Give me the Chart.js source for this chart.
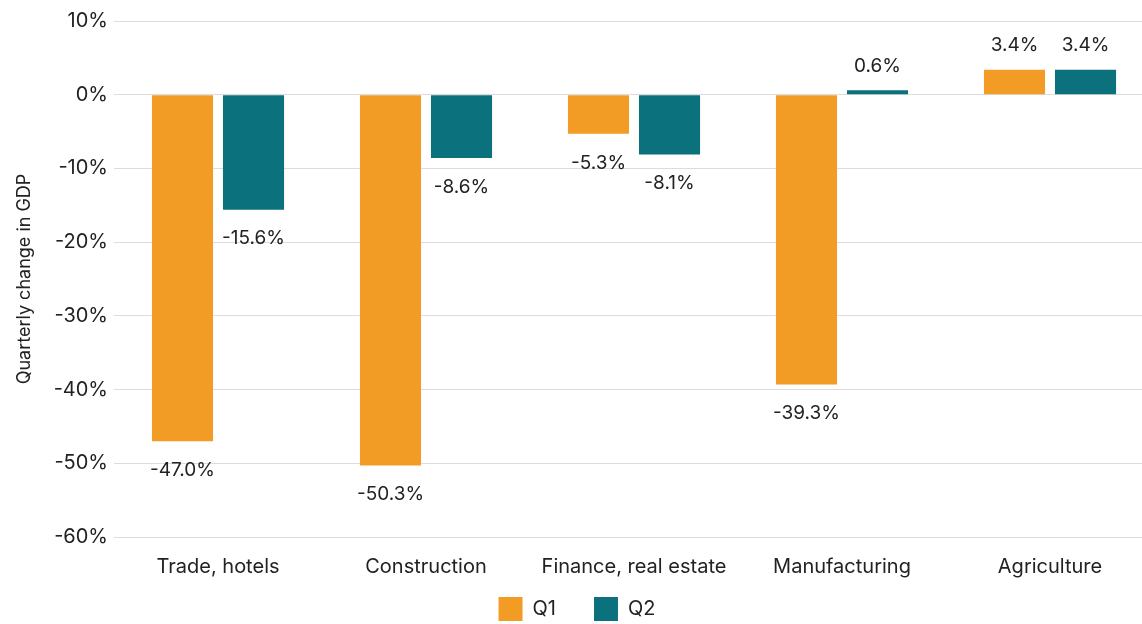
<!DOCTYPE html>
<html>
<head>
<meta charset="utf-8">
<script src="https://cdn.jsdelivr.net/npm/chart.js@4.4.0/dist/chart.umd.min.js"></script>
<style>
  html, body { margin: 0; padding: 0; background: #fff; overflow: hidden; }
  canvas { display: block; }
</style>
</head>
<body>
<canvas id="gdpChart" width="1154" height="624"></canvas>
<script>
const categories = ['Trade, hotels', 'Construction', 'Finance, real estate', 'Manufacturing', 'Agriculture'];
const q1Values = [-47.0, -50.3, -5.3, -39.3, 3.4];
const q2Values = [-15.6, -8.6, -8.1, 0.6, 3.4];
const yTicks = [10, 0, -10, -20, -30, -40, -50, -60];

const FONT = 'Inter, "Open Sans", "Liberation Sans", sans-serif';
const TEXT = '#222222';

// labels at the end of each bar
const barLabels = {
    id: 'barLabels',
    afterDatasetsDraw(chart) {
        const ctx = chart.ctx;
        ctx.save();
        ctx.font = '19px ' + FONT;
        ctx.fillStyle = TEXT;
        ctx.textAlign = 'center';
        ctx.textBaseline = 'middle';
        chart.data.datasets.forEach((ds, i) => {
            chart.getDatasetMeta(i).data.forEach((bar, j) => {
                const v = ds.data[j];
                const y = v < 0 ? bar.y + 29 : bar.y - 24;
                ctx.fillText(v.toFixed(1) + '%', bar.x, y);
            });
        });
        ctx.restore();
    }
};

const chartCtx = document.getElementById('gdpChart').getContext('2d');
new Chart(chartCtx, {
    type: 'bar',
    data: {
        labels: categories,
        datasets: [
            { label: 'Q1', data: q1Values, backgroundColor: '#F29C26', categoryPercentage: 0.683, barPercentage: 0.86 },
            { label: 'Q2', data: q2Values, backgroundColor: '#0B717C', categoryPercentage: 0.683, barPercentage: 0.86 }
        ]
    },
    options: {
        responsive: false,
        animation: false,
        layout: { padding: { top: 21, bottom: -7 } },
        plugins: {
            tooltip: { enabled: false },
            legend: {
                position: 'bottom',
                labels: {
                    boxWidth: 24,
                    boxHeight: 24,
                    padding: 8,
                    color: TEXT,
                    font: { family: FONT, size: 20 },
                    generateLabels(chart) {
                        const items = Chart.defaults.plugins.legend.labels.generateLabels(chart);
                        // wider gap between the two legend entries
                        items[0].text = items[0].text + '\u2003\u2002';
                        return items;
                    }
                }
            }
        },
        scales: {
            x: {
                grid: { display: false },
                border: { display: false },
                ticks: { color: TEXT, padding: 10, font: { family: FONT, size: 20 } }
            },
            y: {
                min: -60,
                max: 10,
                afterFit(scale) { scale.width = 114; },
                afterBuildTicks(scale) { scale.ticks = yTicks.map(v => ({ value: v })); },
                grid: { color: '#dcdcdc', drawTicks: false },
                border: { display: false },
                ticks: {
                    color: TEXT,
                    padding: 6,
                    font: { family: FONT, size: 20 },
                    callback: v => v + '%'
                },
                title: {
                    display: true,
                    text: 'Quarterly change in GDP',
                    color: TEXT,
                    font: { family: FONT, size: 18 },
                    padding: { top: 14, bottom: 6 }
                }
            }
        }
    },
    plugins: [barLabels]
});
</script>
</body>
</html>
